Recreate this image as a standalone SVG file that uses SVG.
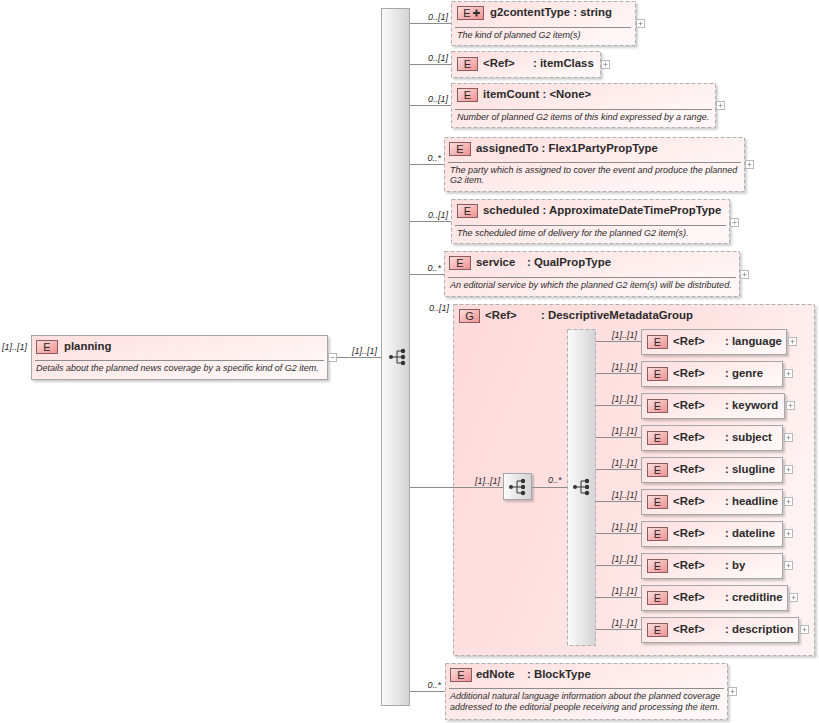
<svg xmlns="http://www.w3.org/2000/svg" xmlns:xlink="http://www.w3.org/1999/xlink" width="819" height="723" viewBox="0 0 819 723">
<defs>
<linearGradient id="eg" x1="0" y1="0" x2="1" y2="0.6"><stop offset="0" stop-color="#ffdede"/><stop offset="1" stop-color="#fff7f7"/></linearGradient>
<linearGradient id="gg" x1="0" y1="0" x2="1" y2="0.4"><stop offset="0" stop-color="#ffdada"/><stop offset="0.6" stop-color="#ffe2e2"/><stop offset="1" stop-color="#fff2f2"/></linearGradient>
<linearGradient id="bg" x1="0" y1="0" x2="1" y2="1"><stop offset="0" stop-color="#fde0e0"/><stop offset="1" stop-color="#f08e8e"/></linearGradient>
<linearGradient id="sg" x1="0" y1="0" x2="1" y2="0"><stop offset="0" stop-color="#fbfbfb"/><stop offset="1" stop-color="#d4d4d4"/></linearGradient>
<filter id="sh" x="-5%" y="-5%" width="115%" height="130%"><feDropShadow dx="2" dy="2" stdDeviation="1" flood-color="#000" flood-opacity="0.2"/></filter>
<g id="plus"><rect x="0.5" y="0.5" width="8" height="8" fill="#fff" stroke="#b8b8b8"/><path d="M2.5 4.5h4M4.5 2.5v4" stroke="#a8a8a8"/></g>
<g id="seq"><circle cx="0" cy="0" r="2" fill="#333"/><path d="M0 0h6M6 -6v12M6 -6h6M6 0h6M6 6h6" stroke="#333" stroke-width="1" fill="none"/><circle cx="12" cy="-6" r="2.2" fill="#333"/><circle cx="12" cy="0" r="2.2" fill="#333"/><circle cx="12" cy="6" r="2.2" fill="#333"/></g>
</defs>
<style>
text{font-family:"Liberation Sans",Arial,sans-serif;fill:#2a2a2a}
.box{fill:url(#eg);stroke:#a6a6a6;stroke-width:1;filter:url(#sh)}
.opt{stroke-dasharray:4 2;stroke:#b0b0b0}
.grp{fill:url(#gg);stroke:#b0b0b0;stroke-dasharray:4 2;filter:url(#sh)}
.bar{fill:url(#sg);stroke:#a6a6a6}
.badge{fill:url(#bg);stroke:#8a5c5c;stroke-width:1}
.bl{font-size:11px;text-anchor:middle}
.nm{font-size:11.4px;font-weight:bold}
.ds{font-size:9px;font-style:italic}
.lb{font-size:9px;font-style:italic}
.lbe{font-size:9px;font-style:italic;text-anchor:end}
.sep{stroke:#8c8c8c;stroke-width:1}
.ln{stroke:#8c8c8c;stroke-width:1;fill:none}
</style>

<g id="mainseq">
<rect class="bar" x="381.5" y="8.5" width="28" height="697"/>
<use xlink:href="#seq" x="391" y="357"/>
</g>

<g id="DescriptiveMetadataGroup">
<text class="lbe" x="449" y="311">0..[1]</text>
<rect class="grp" x="453.5" y="304.5" width="361" height="351"/>
<rect class="badge" x="459.5" y="309.5" width="20" height="13"/>
<text class="bl" x="469.5" y="320">G</text>
<text class="nm" x="485" y="319">&lt;Ref&gt;</text>
<text class="nm" x="541" y="319">: DescriptiveMetadataGroup</text>
<text class="lbe" x="500" y="484">[1]..[1]</text>
<rect class="bar" x="503.5" y="473.5" width="28" height="26" style="filter:url(#sh)"/>
<use xlink:href="#seq" x="511" y="487"/>
<text class="lb" x="548" y="483">0..*</text>
<rect class="bar" x="567.5" y="329.5" width="28" height="316" style="stroke-dasharray:4 2;stroke:#b0b0b0"/>
<use xlink:href="#seq" x="575" y="487"/>
</g>

<g id="connectors">
<path class="ln" d="M328 357.5H381.5"/>
<path class="ln" d="M410 23.5H451M410 64.5H451M410 105.5H451M410 164.5H444M410 221.5H451M410 274.5H444M410 487.5H503M532 487.5H567M410 691.5H445"/>
<path class="ln" d="M596 341.5H641M596 373.5H641M596 405.5H641M596 437.5H641M596 469.5H641M596 501.5H641M596 533.5H641M596 565.5H641M596 597.5H641M596 629.5H641"/>
</g>

<g id="planning">
<text class="lb" x="2" y="350">[1]..[1]</text>
<rect class="box" x="31.5" y="335.5" width="296" height="44"/>
<rect class="badge" x="36.5" y="340.5" width="21" height="13"/>
<text class="bl" x="47" y="351">E</text>
<text class="nm" x="64" y="350">planning</text>
<line class="sep" x1="35" y1="360.5" x2="324" y2="360.5"/>
<text class="ds" x="36" y="371">Details about the planned news coverage by a specific kind of G2 item.</text>
<rect x="328.5" y="353.5" width="8" height="8" fill="#fff" stroke="#b8b8b8"/>
<path d="M330.5 357.5h4" stroke="#a8a8a8"/>
<text class="lbe" x="377" y="354">[1]..[1]</text>
</g>

<g id="g2contentType">
<text class="lbe" x="448" y="20">0..[1]</text>
<rect class="box opt" x="451.5" y="1.5" width="184" height="44"/>
<rect class="badge" x="457.5" y="6.5" width="26" height="13"/>
<text class="bl" x="467" y="17">E</text>
<path d="M473 13h7M476.5 9.5v7" stroke="#333" stroke-width="2"/>
<text class="nm" x="490" y="16">g2contentType : string</text>
<line class="sep" x1="455" y1="27.5" x2="631" y2="27.5"/>
<text class="ds" x="457" y="38">The kind of planned G2 item(s)</text>
<use xlink:href="#plus" x="636" y="19"/>
</g>

<g id="itemClass">
<text class="lbe" x="448" y="61">0..[1]</text>
<rect class="box opt" x="451.5" y="51.5" width="149" height="26"/>
<rect class="badge" x="457.5" y="57.5" width="20" height="13"/>
<text class="bl" x="467.5" y="68">E</text>
<text class="nm" x="483" y="67">&lt;Ref&gt;</text>
<text class="nm" x="533" y="67">: itemClass</text>
<use xlink:href="#plus" x="601" y="60"/>
</g>

<g id="itemCount">
<text class="lbe" x="448" y="102">0..[1]</text>
<rect class="box opt" x="451.5" y="83.5" width="264" height="44"/>
<rect class="badge" x="457.5" y="88.5" width="20" height="13"/>
<text class="bl" x="467.5" y="99">E</text>
<text class="nm" x="483" y="98">itemCount : &lt;None&gt;</text>
<line class="sep" x1="455" y1="109.5" x2="712" y2="109.5"/>
<text class="ds" x="457" y="120">Number of planned G2 items of this kind expressed by a range.</text>
<use xlink:href="#plus" x="716" y="101"/>
</g>

<g id="assignedTo">
<text class="lbe" x="441" y="161">0..*</text>
<rect class="box opt" x="444.5" y="137.5" width="300" height="54"/>
<rect class="badge" x="449.5" y="142.5" width="21" height="13"/>
<text class="bl" x="460" y="153">E</text>
<text class="nm" x="476" y="152">assignedTo : Flex1PartyPropType</text>
<line class="sep" x1="448" y1="162.5" x2="741" y2="162.5"/>
<text class="ds" x="450" y="173">The party which is assigned to cover the event and produce the planned</text>
<text class="ds" x="450" y="183">G2 item.</text>
<use xlink:href="#plus" x="745" y="160"/>
</g>

<g id="scheduled">
<text class="lbe" x="448" y="218">0..[1]</text>
<rect class="box opt" x="451.5" y="199.5" width="278" height="44"/>
<rect class="badge" x="457.5" y="204.5" width="20" height="13"/>
<text class="bl" x="467.5" y="215">E</text>
<text class="nm" x="483" y="214">scheduled : ApproximateDateTimePropType</text>
<line class="sep" x1="455" y1="225.5" x2="726" y2="225.5"/>
<text class="ds" x="457" y="236">The scheduled time of delivery for the planned G2 item(s).</text>
<use xlink:href="#plus" x="730" y="218"/>
</g>

<g id="service">
<text class="lbe" x="441" y="271">0..*</text>
<rect class="box opt" x="444.5" y="251.5" width="295" height="45"/>
<rect class="badge" x="449.5" y="256.5" width="21" height="13"/>
<text class="bl" x="460" y="267">E</text>
<text class="nm" x="476" y="266">service</text>
<text class="nm" x="527" y="266">: QualPropType</text>
<line class="sep" x1="448" y1="277.5" x2="736" y2="277.5"/>
<text class="ds" x="450" y="288">An editorial service by which the planned G2 item(s) will be distributed.</text>
<use xlink:href="#plus" x="740" y="270"/>
</g>

<g id="language">
<text class="lbe" x="637" y="338">[1]..[1]</text>
<rect class="box" x="641.5" y="329.5" width="145" height="25"/>
<rect class="badge" x="647.5" y="335.5" width="20" height="13"/>
<text class="bl" x="657.5" y="346">E</text>
<text class="nm" x="673" y="345">&lt;Ref&gt;</text>
<text class="nm" x="725" y="345">: language</text>
<use xlink:href="#plus" x="788" y="337"/>
</g>
<g id="genre">
<text class="lbe" x="637" y="370">[1]..[1]</text>
<rect class="box" x="641.5" y="361.5" width="141" height="25"/>
<rect class="badge" x="647.5" y="367.5" width="20" height="13"/>
<text class="bl" x="657.5" y="378">E</text>
<text class="nm" x="673" y="377">&lt;Ref&gt;</text>
<text class="nm" x="725" y="377">: genre</text>
<use xlink:href="#plus" x="784" y="369"/>
</g>
<g id="keyword">
<text class="lbe" x="637" y="402">[1]..[1]</text>
<rect class="box" x="641.5" y="393.5" width="143" height="25"/>
<rect class="badge" x="647.5" y="399.5" width="20" height="13"/>
<text class="bl" x="657.5" y="410">E</text>
<text class="nm" x="673" y="409">&lt;Ref&gt;</text>
<text class="nm" x="725" y="409">: keyword</text>
<use xlink:href="#plus" x="786" y="401"/>
</g>
<g id="subject">
<text class="lbe" x="637" y="434">[1]..[1]</text>
<rect class="box" x="641.5" y="425.5" width="141" height="25"/>
<rect class="badge" x="647.5" y="431.5" width="20" height="13"/>
<text class="bl" x="657.5" y="442">E</text>
<text class="nm" x="673" y="441">&lt;Ref&gt;</text>
<text class="nm" x="725" y="441">: subject</text>
<use xlink:href="#plus" x="784" y="433"/>
</g>
<g id="slugline">
<text class="lbe" x="637" y="466">[1]..[1]</text>
<rect class="box" x="641.5" y="457.5" width="141" height="25"/>
<rect class="badge" x="647.5" y="463.5" width="20" height="13"/>
<text class="bl" x="657.5" y="474">E</text>
<text class="nm" x="673" y="473">&lt;Ref&gt;</text>
<text class="nm" x="725" y="473">: slugline</text>
<use xlink:href="#plus" x="784" y="465"/>
</g>
<g id="headline">
<text class="lbe" x="637" y="498">[1]..[1]</text>
<rect class="box" x="641.5" y="489.5" width="141" height="25"/>
<rect class="badge" x="647.5" y="495.5" width="20" height="13"/>
<text class="bl" x="657.5" y="506">E</text>
<text class="nm" x="673" y="505">&lt;Ref&gt;</text>
<text class="nm" x="725" y="505">: headline</text>
<use xlink:href="#plus" x="784" y="497"/>
</g>
<g id="dateline">
<text class="lbe" x="637" y="530">[1]..[1]</text>
<rect class="box" x="641.5" y="521.5" width="141" height="25"/>
<rect class="badge" x="647.5" y="527.5" width="20" height="13"/>
<text class="bl" x="657.5" y="538">E</text>
<text class="nm" x="673" y="537">&lt;Ref&gt;</text>
<text class="nm" x="725" y="537">: dateline</text>
<use xlink:href="#plus" x="784" y="529"/>
</g>
<g id="by">
<text class="lbe" x="637" y="562">[1]..[1]</text>
<rect class="box" x="641.5" y="553.5" width="141" height="25"/>
<rect class="badge" x="647.5" y="559.5" width="20" height="13"/>
<text class="bl" x="657.5" y="570">E</text>
<text class="nm" x="673" y="569">&lt;Ref&gt;</text>
<text class="nm" x="725" y="569">: by</text>
<use xlink:href="#plus" x="784" y="561"/>
</g>
<g id="creditline">
<text class="lbe" x="637" y="594">[1]..[1]</text>
<rect class="box" x="641.5" y="585.5" width="146" height="25"/>
<rect class="badge" x="647.5" y="591.5" width="20" height="13"/>
<text class="bl" x="657.5" y="602">E</text>
<text class="nm" x="673" y="601">&lt;Ref&gt;</text>
<text class="nm" x="725" y="601">: creditline</text>
<use xlink:href="#plus" x="789" y="593"/>
</g>
<g id="description">
<text class="lbe" x="637" y="626">[1]..[1]</text>
<rect class="box" x="641.5" y="617.5" width="157" height="25"/>
<rect class="badge" x="647.5" y="623.5" width="20" height="13"/>
<text class="bl" x="657.5" y="634">E</text>
<text class="nm" x="673" y="633">&lt;Ref&gt;</text>
<text class="nm" x="725" y="633">: description</text>
<use xlink:href="#plus" x="800" y="625"/>
</g>

<g id="edNote">
<text class="lbe" x="441" y="688">0..*</text>
<rect class="box opt" x="445.5" y="663.5" width="282" height="56"/>
<rect class="badge" x="450.5" y="668.5" width="21" height="13"/>
<text class="bl" x="461" y="679">E</text>
<text class="nm" x="476" y="678">edNote</text>
<text class="nm" x="527" y="678">: BlockType</text>
<line class="sep" x1="449" y1="688.5" x2="724" y2="688.5"/>
<text class="ds" x="450" y="699">Additional natural language information about the planned coverage</text>
<text class="ds" x="450" y="710">addressed to the editorial people receiving and processing the item.</text>
<use xlink:href="#plus" x="728" y="687"/>
</g>
</svg>
